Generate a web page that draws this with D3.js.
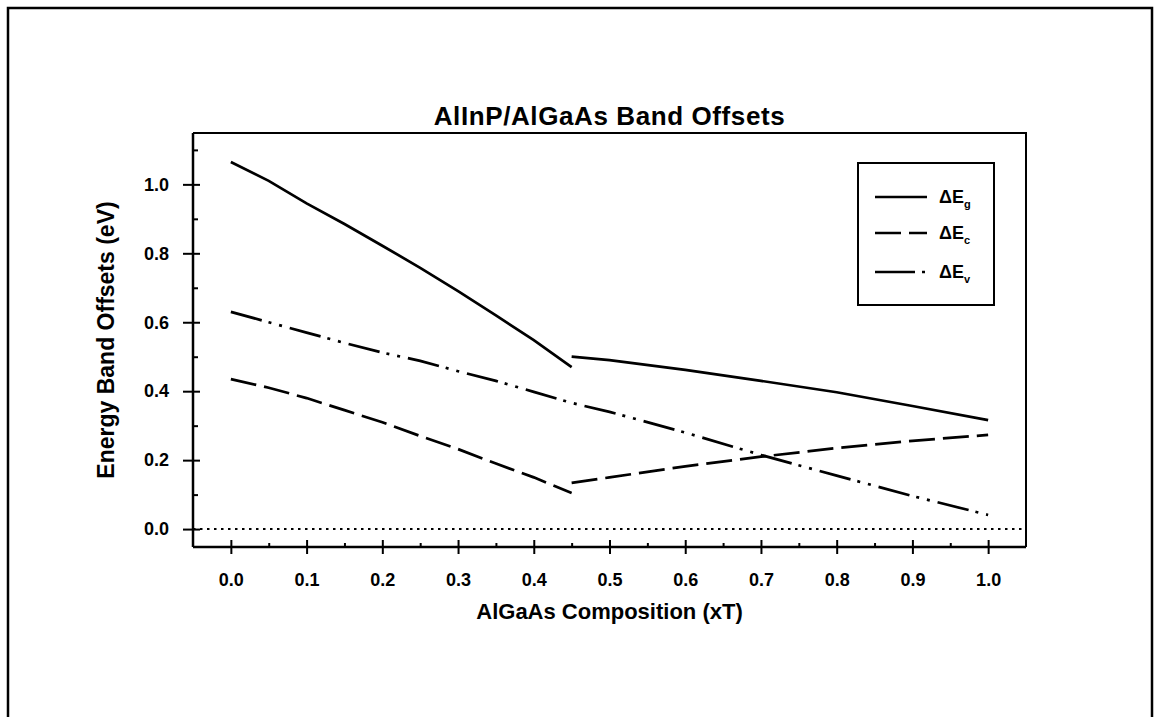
<!DOCTYPE html>
<html>
<head>
<meta charset="utf-8">
<script src="https://cdn.jsdelivr.net/npm/d3@7"></script>
<style>
  body { margin: 0; background: #fff; }
  text { font-family: "Liberation Sans", Arial, sans-serif; font-weight: bold; fill: #000; }
</style>
</head>
<body>
<script>
// AlInP/AlGaAs band offsets vs AlGaAs composition
// Eg and Ec jump at the direct/indirect crossover (x ~ 0.45), Ev is continuous

var xLow = [0, 0.05, 0.1, 0.15, 0.2, 0.25, 0.3, 0.35, 0.4, 0.45];
var egLow = [1.065, 1.01, 0.945, 0.885, 0.822, 0.758, 0.69, 0.62, 0.548, 0.47];
var ecLow = [0.435, 0.41, 0.38, 0.345, 0.31, 0.27, 0.232, 0.19, 0.15, 0.105];

var xHigh = [0.45, 0.5, 0.6, 0.7, 0.8, 0.9, 1.0];
var egHigh = [0.5, 0.49, 0.462, 0.43, 0.397, 0.357, 0.316];
var ecHigh = [0.134, 0.15, 0.182, 0.21, 0.235, 0.256, 0.273];

var xAll = [0, 0.05, 0.1, 0.15, 0.2, 0.25, 0.3, 0.35, 0.4, 0.45, 0.5, 0.6, 0.7, 0.8, 0.9, 1.0];
var evAll = [0.63, 0.6, 0.57, 0.54, 0.512, 0.488, 0.458, 0.43, 0.398, 0.366, 0.34, 0.28, 0.215, 0.155, 0.096, 0.041];

var xTicks = [0, 0.1, 0.2, 0.3, 0.4, 0.5, 0.6, 0.7, 0.8, 0.9, 1.0];
var xMinor = [0.05, 0.15, 0.25, 0.35, 0.45, 0.55, 0.65, 0.75, 0.85, 0.95];
var yTicks = [0, 0.2, 0.4, 0.6, 0.8, 1.0];
var yMinor = [0.1, 0.3, 0.5, 0.7, 0.9, 1.1];

var legendNames = ["g", "c", "v"];

var W = 1157, H = 717;
var pLeft = 193, pRight = 1026, pTop = 133, pBottom = 547;

var svg = d3.select("body").append("svg")
    .attr("width", W)
    .attr("height", H);

// outer frame (bottom edge runs off the page)
svg.append("rect")
    .attr("x", 8).attr("y", 8)
    .attr("width", 1144).attr("height", 760)
    .attr("fill", "none").attr("stroke", "#000").attr("stroke-width", 2.5);

var x = d3.scaleLinear().domain([-0.05, 1.05]).range([pLeft, pRight]);
var y = d3.scaleLinear().domain([-0.052, 1.149]).range([pBottom, pTop]);

// top and right frame of plot
svg.append("path")
    .attr("d", "M" + pLeft + "," + pTop + "H" + pRight + "V" + pBottom)
    .attr("fill", "none").attr("stroke", "#000").attr("stroke-width", 2);

// zero line
svg.append("line")
    .attr("x1", pLeft).attr("x2", pRight)
    .attr("y1", y(0)).attr("y2", y(0))
    .attr("stroke", "#000").attr("stroke-width", 2)
    .attr("stroke-dasharray", "2.5,4.5");

// y axis
var gy = svg.append("g")
    .attr("transform", "translate(" + pLeft + ",0)")
    .call(d3.axisLeft(y).tickValues(yTicks).tickSize(10).tickPadding(14).tickFormat(d3.format(".1f")));
gy.selectAll(".tick line").attr("x1", 7).attr("stroke-width", 2);
gy.select(".domain").attr("stroke-width", 2.5).attr("d", "M0," + pTop + "V" + pBottom);
gy.selectAll("text").style("font-size", "18px").style("font-family", "Liberation Sans, Arial").style("font-weight", "bold");

var gyMinor = svg.append("g")
    .attr("transform", "translate(" + pLeft + ",0)")
    .call(d3.axisRight(y).tickValues(yMinor).tickSize(5).tickFormat(""));
gyMinor.select(".domain").remove();
gyMinor.selectAll(".tick line").attr("stroke-width", 2);

// x axis
var gx = svg.append("g")
    .attr("transform", "translate(0," + pBottom + ")")
    .call(d3.axisBottom(x).tickValues(xTicks).tickSize(7).tickPadding(19).tickFormat(d3.format(".1f")));
gx.selectAll(".tick line").attr("y1", -7).attr("stroke-width", 2);
gx.select(".domain").attr("stroke-width", 2.5).attr("d", "M" + pLeft + ",0H" + pRight);
gx.selectAll("text").style("font-size", "18px").style("font-family", "Liberation Sans, Arial").style("font-weight", "bold");

var gxMinor = svg.append("g")
    .attr("transform", "translate(0," + pBottom + ")")
    .call(d3.axisTop(x).tickValues(xMinor).tickSize(4).tickFormat(""));
gxMinor.select(".domain").remove();
gxMinor.selectAll(".tick line").attr("stroke-width", 2);

// series
var line = d3.line()
    .x(function (d) { return x(d[0]); })
    .y(function (d) { return y(d[1]); });

var drawLine = function (xs, ys, dash) {
    svg.append("path")
        .datum(d3.zip(xs, ys))
        .attr("d", line)
        .attr("fill", "none")
        .attr("stroke", "#000")
        .attr("stroke-width", 2.7)
        .attr("stroke-dasharray", dash);
};

var dashEc = "26,8";
var dashEv = "32,7,3,8,3,8";

drawLine(xLow, egLow, null);
drawLine(xHigh, egHigh, null);
drawLine(xLow, ecLow, dashEc);
drawLine(xHigh, ecHigh, dashEc);
drawLine(xAll, evAll, dashEv);

// title and axis labels
svg.append("text")
    .attr("x", (pLeft + pRight) / 2).attr("y", 125)
    .attr("text-anchor", "middle")
    .style("font-size", "26px")
    .style("letter-spacing", "0.6px")
    .text("AlInP/AlGaAs Band Offsets");

svg.append("text")
    .attr("x", (pLeft + pRight) / 2).attr("y", 619)
    .attr("text-anchor", "middle")
    .style("font-size", "22px")
    .text("AlGaAs Composition (xT)");

svg.append("text")
    .attr("transform", "translate(114," + ((pTop + pBottom) / 2) + ") rotate(-90)")
    .attr("text-anchor", "middle")
    .style("font-size", "23px")
    .text("Energy Band Offsets (eV)");

// legend
var lg = svg.append("g");
lg.append("rect")
    .attr("x", 858).attr("y", 163)
    .attr("width", 136).attr("height", 142)
    .attr("fill", "#fff").attr("stroke", "#000").attr("stroke-width", 2);

var legendDash = [null, dashEc, "40,7,3,8"];
var legendY = [197, 233, 272];

for (var i = 0; i < legendNames.length; i++) {
    lg.append("line")
        .attr("x1", 875).attr("x2", 927)
        .attr("y1", legendY[i]).attr("y2", legendY[i])
        .attr("stroke", "#000").attr("stroke-width", 2.7)
        .attr("stroke-dasharray", legendDash[i]);
    var t = lg.append("text")
        .attr("x", 939).attr("y", legendY[i] + 6)
        .style("font-size", "18px");
    t.append("tspan").text("\u0394E");
    t.append("tspan")
        .attr("dy", 5)
        .style("font-size", "11px")
        .text(legendNames[i]);
}
</script>
</body>
</html>
